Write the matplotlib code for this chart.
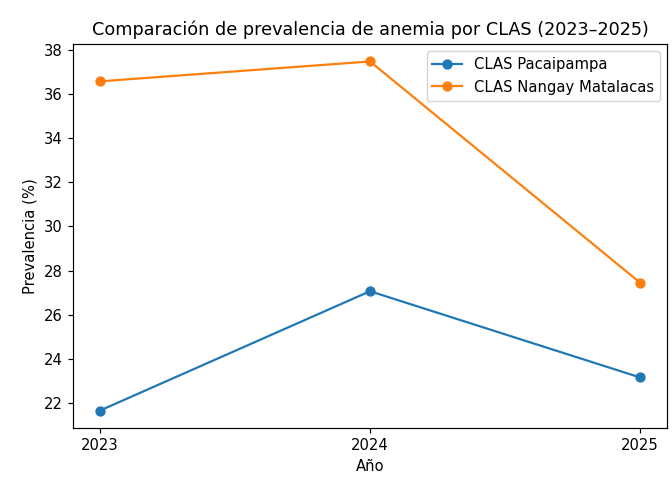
import matplotlib
matplotlib.use("Agg")
import matplotlib.pyplot as plt

years = [2023, 2024, 2025]
pacaipampa = [21.67, 27.07, 23.17]
nangay = [36.57, 37.47, 27.46]

DPI = 106
fig = plt.figure(figsize=(672/DPI, 477/DPI), dpi=DPI)
ax = fig.add_axes([73/672, 1-428/477, (667-73)/672, (428-44)/477])
ax.plot(years, pacaipampa, marker='o', label='CLAS Pacaipampa')
ax.plot(years, nangay, marker='o', label='CLAS Nangay Matalacas')
ax.set_xticks(years)
ax.set_title('Comparación de prevalencia de anemia por CLAS (2023–2025)')
ax.set_xlabel('Año')
ax.set_ylabel('Prevalencia (%)')
ax.legend()
fig.savefig('out.png', dpi=DPI)
